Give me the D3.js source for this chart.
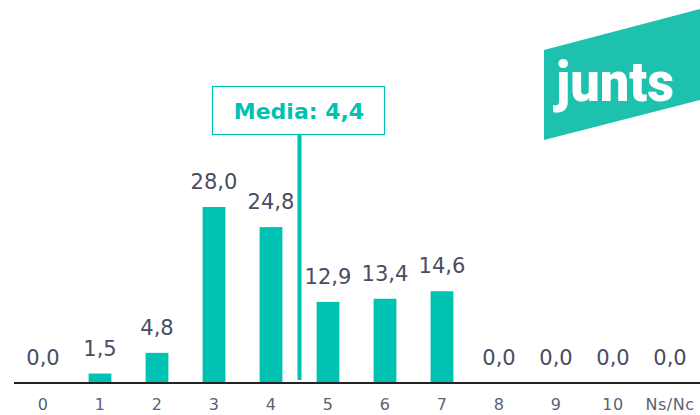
<!DOCTYPE html>
<html>
<head>
<meta charset="utf-8">
<script src="https://cdn.jsdelivr.net/npm/d3@7"></script>
<style>
  body { margin: 0; background: #fff; }
  svg { display: block; }
</style>
</head>
<body>
<svg width="700" height="415"></svg>
<script>
// data
var categories = ["0", "1", "2", "3", "4", "5", "6", "7", "8", "9", "10", "Ns/Nc"];
var values = [0.0, 1.5, 4.8, 28.0, 24.8, 12.9, 13.4, 14.6, 0.0, 0.0, 0.0, 0.0];
var mediaValue = 4.4;
var mediaLinePos = 4.5;   // where the line is drawn, in category index units
var logoText = "junts";

var teal = "#00c2b2";

var svg = d3.select("svg"),
    width = +svg.attr("width"),
    height = +svg.attr("height");

var baseY = 383;

var x = d3.scaleBand()
    .domain(categories)
    .range([14.5, 698.5])
    .paddingInner(0.6)
    .paddingOuter(0.3);

var xIdx = d3.scaleLinear()
    .domain([0, categories.length - 1])
    .range([x(categories[0]) + x.bandwidth() / 2,
            x(categories[categories.length - 1]) + x.bandwidth() / 2]);

var y = d3.scaleLinear().domain([0, 28]).range([baseY, 207]);

var fmt = function (v) { return d3.format(".1f")(v).replace(".", ","); };

var data = categories.map(function (c, i) { return {cat: c, val: values[i]}; });

// logo
var logo = svg.append("g");
logo.append("polygon")
    .attr("points", "544,50 700,9 700,100 544,140")
    .attr("fill", "#1ec0ae");
logo.append("text")
    .attr("x", 556)
    .attr("y", 101)
    .attr("textLength", 118)
    .attr("lengthAdjust", "spacingAndGlyphs")
    .style("font-family", "Roboto, sans-serif")
    .style("font-weight", "900")
    .style("font-size", "56px")
    .attr("fill", "#fff")
    .text(logoText);

// bars
svg.selectAll(".bar")
    .data(data)
    .enter().append("rect")
    .attr("class", "bar")
    .attr("x", function (d) { return x(d.cat); })
    .attr("width", x.bandwidth())
    .attr("y", function (d) { return y(d.val); })
    .attr("height", function (d) { return baseY - y(d.val); })
    .attr("fill", teal);

// value labels
svg.selectAll(".val")
    .data(data)
    .enter().append("text")
    .attr("class", "val")
    .attr("x", function (d) { return x(d.cat) + x.bandwidth() / 2; })
    .attr("y", function (d) { return y(d.val) - 18; })
    .attr("text-anchor", "middle")
    .style("font-family", "'DejaVu Sans', sans-serif")
    .style("font-size", "21px")
    .attr("fill", "#494d61")
    .text(function (d) { return fmt(d.val); });

// axis
var axis = svg.append("g")
    .attr("transform", "translate(0," + baseY + ")")
    .call(d3.axisBottom(x).tickSize(0).tickPadding(0));
axis.select(".domain")
    .attr("stroke", "#222")
    .attr("stroke-width", 2)
    .attr("d", "M14,0H700");
axis.selectAll(".tick text")
    .attr("y", 27)
    .attr("dy", 0)
    .style("font-family", "'DejaVu Sans', sans-serif")
    .style("font-size", "16px")
    .style("letter-spacing", "0.5px")
    .attr("fill", "#5c6177");

// media line + box
var mx = xIdx(mediaLinePos);
svg.append("line")
    .attr("x1", mx).attr("x2", mx)
    .attr("y1", 135).attr("y2", 380)
    .attr("stroke", teal)
    .attr("stroke-width", 4);

svg.append("rect")
    .attr("x", 212.5).attr("y", 86.5)
    .attr("width", 172).attr("height", 48)
    .attr("fill", "#fff")
    .attr("stroke", teal)
    .attr("stroke-width", 1.2);

svg.append("text")
    .attr("x", 299)
    .attr("y", 119)
    .attr("text-anchor", "middle")
    .style("font-family", "'DejaVu Sans', sans-serif")
    .style("font-weight", "bold")
    .style("font-size", "22px")
    .attr("fill", teal)
    .text("Media: " + fmt(mediaValue));
</script>
</body>
</html>
